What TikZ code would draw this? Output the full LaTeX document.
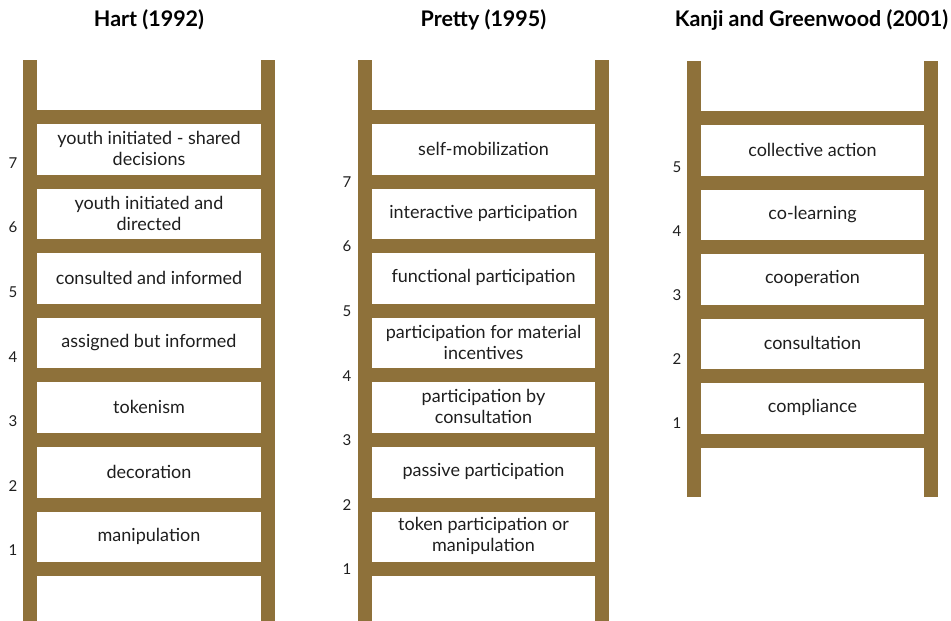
\documentclass[tikz,border=0pt]{standalone}
\usepackage{fontspec}
\setmainfont{Lato}
\usepackage{tikz}
\definecolor{wood}{RGB}{142,113,58}
\definecolor{ink}{RGB}{30,30,30}
\tikzset{
  rail/.style={fill=wood},
  rungtext/.style={align=center, text=ink, font=\fontsize{18}{21}\selectfont},
  rungnum/.style={text=ink, font=\fontsize{15}{17}\selectfont},
  laddertitle/.style={text=black, font=\bfseries\fontsize{21.5}{24}\selectfont}
}

\begin{document}
\begin{tikzpicture}[x=1pt,y=-1pt]
\useasboundingbox (0,0) rectangle (951,621);

% Hart
\node[laddertitle] (hart) at (149,20) {Hart (1992)};
\fill[rail] (23,60) rectangle (37,621);
\fill[rail] (261,60) rectangle (275,621);
\foreach \i in {0,...,7}
  \fill[rail] (37,110+64.6*\i) rectangle (261,124+64.6*\i);
\foreach \t [count=\k from 0] in {{youth initiated - shared\\decisions},{youth initiated and\\directed},{consulted and informed},{assigned but informed},{tokenism},{decoration},{manipulation}}
  \node[rungtext] (hart-\k) at (149,148.5+64.6*\k) {\t};
\foreach \n in {1,...,7}
  \node[rungnum] (hartnum-\n) at ({13},{163+64.6*(7-\n)}) {\n};

% Pretty
\node[laddertitle] (pretty) at (483.5,20) {Pretty (1995)};
\fill[rail] (358,60) rectangle (372,621);
\fill[rail] (595,60) rectangle (609,621);
\foreach \i in {0,...,7}
  \fill[rail] (372,110+64.6*\i) rectangle (595,124+64.6*\i);
\foreach \t [count=\k from 0] in {{self-mobilization},{interactive participation},{functional participation},{participation for material\\incentives},{participation by\\consultation},{passive participation},{token participation or\\manipulation}}
  \node[rungtext] (pretty-\k) at (483.5,148.5+64.6*\k) {\t};
\foreach \n in {1,...,7}
  \node[rungnum] (prettynum-\n) at ({347},{182+64.6*(7-\n)}) {\n};

% Kanji and Greenwood
\node[laddertitle] (kanji) at (811.5,20) {Kanji and Greenwood (2001)};
\fill[rail] (687,61) rectangle (701,497);
\fill[rail] (924,61) rectangle (938,497);
\foreach \i in {0,...,5}
  \fill[rail] (701,111+64.6*\i) rectangle (924,125+64.6*\i);
\foreach \t [count=\k from 0] in {{collective action},{co-learning},{cooperation},{consultation},{compliance}}
  \node[rungtext] (kanji-\k) at (812.5,149.5+64.6*\k) {\t};
\foreach \n in {1,...,5}
  \node[rungnum] (kanjinum-\n) at ({677},{167+64*(5-\n)}) {\n};
\end{tikzpicture}
\end{document}
